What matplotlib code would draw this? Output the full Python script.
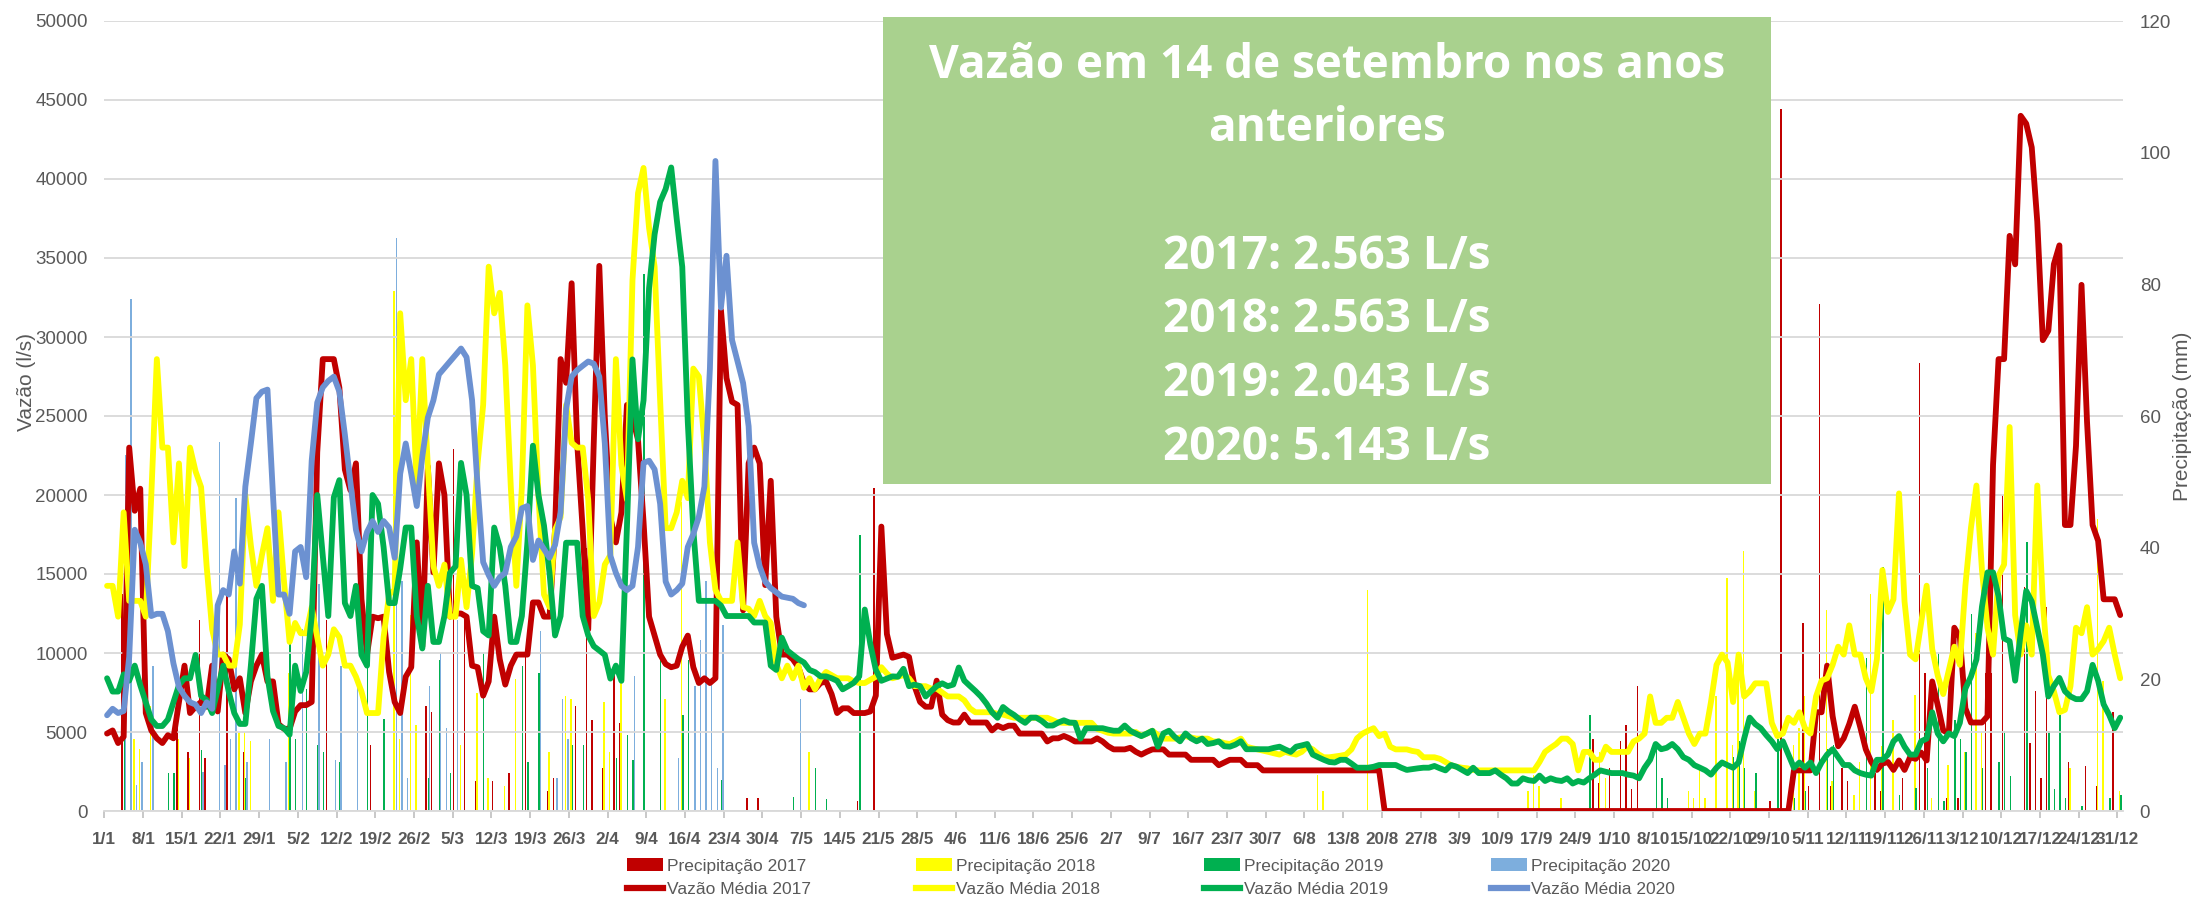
import numpy as np
import matplotlib
matplotlib.use("Agg")
import matplotlib.pyplot as plt
from matplotlib import font_manager
from matplotlib.patches import Rectangle, Patch
from matplotlib.lines import Line2D

# ---------------- data ----------------
tick_labels = ["1/1", "8/1", "15/1", "22/1", "29/1", "5/2", "12/2", "19/2", "26/2", "5/3",
               "12/3", "19/3", "26/3", "2/4", "9/4", "16/4", "23/4", "30/4", "7/5", "14/5",
               "21/5", "28/5", "4/6", "11/6", "18/6", "25/6", "2/7", "9/7", "16/7", "23/7",
               "30/7", "6/8", "13/8", "20/8", "27/8", "3/9", "10/9", "17/9", "24/9", "1/10",
               "8/10", "15/10", "22/10", "29/10", "5/11", "12/11", "19/11", "26/11", "3/12",
               "10/12", "17/12", "24/12", "31/12"]

vazao_2017 = [
    4900, 5100, 4300, 4700, 23000, 19000, 20400, 6200, 5100, 4600,
    4300, 4800, 4600, 6900, 9200, 6200, 6600, 6900, 6600, 9200,
    6300, 9900, 9600, 7700, 8400, 6200, 8200, 9200, 9900, 8200,
    8200, 5500, 5200, 5200, 6300, 6700, 6700, 6900, 22700, 28600,
    28600, 28600, 26800, 21600, 20300, 22000, 13400, 9900, 12300, 12200,
    12300, 8800, 6900, 6200, 8500, 9100, 17000, 10400, 21800, 15100,
    22000, 20000, 12300, 12500, 12500, 12300, 9200, 9100, 7300, 8200,
    12300, 9600, 8000, 9200, 9900, 9900, 9900, 13200, 13200, 12300,
    12300, 17800, 28600, 27100, 33400, 23300, 17800, 11500, 23300, 34500,
    24900, 18600, 17000, 18900, 25700, 24900, 23500, 18300, 12300, 11100,
    9900, 9300, 9100, 9200, 10400, 11100, 9100, 8100, 8400, 8100,
    8400, 31700, 27400, 25900, 25700, 12700, 22000, 23000, 22000, 14300,
    20900, 12300, 9900, 9900, 9600, 9100, 8100, 7700, 7700, 8100,
    8200, 7400, 6200, 6500, 6500, 6200, 6200, 6200, 6300, 7300,
    18000, 11200, 9700, 9800, 9900, 9750, 7900, 6900, 6600, 6600,
    8250, 6100, 5750, 5600, 5600, 6100, 5600, 5600, 5600, 5600,
    5100, 5400, 5250, 5400, 5400, 4900, 4900, 4900, 4900, 4900,
    4400, 4600, 4600, 4750, 4600, 4400, 4400, 4400, 4400, 4600,
    4400, 4100, 3900, 3900, 3900, 4000, 3750, 3570, 3750, 3900,
    3900, 3900, 3570, 3570, 3570, 3570, 3240, 3240, 3240, 3240,
    3240, 2900, 3070, 3240, 3240, 3240, 2900, 2900, 2900, 2570,
    2570, 2570, 2570, 2570, 2570, 2570, 2570, 2570, 2570, 2570,
    2570, 2570, 2570, 2570, 2570, 2570, 2570, 2570, 2570, 2570,
    2570, 0, 0, 0, 0, 0, 0, 0, 0, 0,
    0, 0, 0, 0, 0, 0, 0, 0, 0, 0,
    0, 0, 0, 0, 0, 0, 0, 0, 0, 0,
    0, 0, 0, 0, 0, 0, 0, 0, 0, 0,
    0, 0, 0, 0, 0, 0, 0, 0, 0, 0,
    0, 0, 0, 0, 0, 0, 0, 0, 0, 0,
    0, 0, 0, 0, 0, 0, 0, 0, 0, 0,
    0, 0, 0, 0, 0, 2570, 2570, 2570, 2570, 6250,
    6250, 9200, 6000, 4100, 4600, 5500, 6600, 5300, 3900, 3100,
    2600, 3000, 3100, 2600, 3200, 2600, 3400, 3300, 3700, 3200,
    8200, 6700, 5100, 4900, 11600, 11000, 6500, 5600, 5600, 5600,
    6000, 21900, 28600, 28600, 36400, 34600, 44000, 43500, 42000, 37300,
    29800, 30400, 34600, 35800, 18100, 18100, 23100, 33300, 24600, 18100,
    17100, 13400, 13400, 13400, 12400]

vazao_2018 = [
    14250, 14250, 12300, 18900, 13300, 13300, 13300, 12300, 20000, 28600,
    23000, 23000, 17000, 22000, 15500, 23000, 21500, 20500, 15500, 11500,
    9900, 9900, 9200, 9200, 11800, 20000, 16800, 14250, 16200, 17900,
    13300, 18900, 14500, 10700, 11900, 11250, 11250, 12900, 11000, 9200,
    9900, 11500, 11000, 9200, 9200, 8500, 7560, 6200, 6200, 6200,
    11000, 13700, 14000, 31500, 26000, 28600, 20500, 28600, 21800, 15500,
    14250, 15600, 12300, 12300, 15900, 12900, 16300, 22000, 25700, 34450,
    31500, 32800, 28200, 20500, 14250, 20500, 32000, 28200, 20000, 13700,
    12900, 17800, 18600, 25700, 23300, 23000, 23000, 19700, 12340, 13200,
    15600, 16200, 28600, 21900, 19700, 33600, 39100, 40700, 36900, 34450,
    26000, 17900, 17900, 18900, 20900, 19800, 28000, 27500, 23300, 17000,
    14000, 13300, 13300, 13300, 17000, 12900, 12800, 12340, 13300, 12340,
    11900, 9300, 8400, 9200, 8400, 9200, 7800, 8400, 7700, 8400,
    8800, 8600, 8400, 8400, 8400, 8200, 8100, 8100, 8300, 8500,
    9100, 8700, 8400, 8500, 8600, 8400, 7900, 7900, 7900, 7750,
    7750, 7500, 7250, 7250, 7250, 7000, 6500, 6250, 6250, 6250,
    6250, 6150, 6100, 6000, 5900, 5900, 5900, 5900, 5900, 5900,
    5900, 5750, 5600, 5580, 5580, 5580, 5580, 5580, 5580, 5200,
    5080, 4950, 4900, 4900, 4900, 4900, 5000, 4750, 4900, 5080,
    4800, 4580, 4580, 4580, 4650, 4740, 4650, 4580, 4580, 4580,
    4400, 4400, 4300, 4240, 4400, 4580, 4070, 3980, 3900, 3820,
    3740, 3650, 3570, 3740, 3650, 3570, 3740, 4070, 3900, 3600,
    3400, 3400, 3450, 3500, 3570, 3900, 4600, 4900, 5080, 5240,
    4740, 4900, 4070, 3900, 3900, 3900, 3800, 3740, 3400, 3400,
    3400, 3300, 3100, 2900, 2800, 2740, 2700, 2600, 2570, 2570,
    2570, 2570, 2570, 2570, 2570, 2570, 2570, 2570, 2570, 3100,
    3740, 4000, 4240, 4580, 4580, 4240, 2570, 3740, 3740, 3240,
    3240, 4070, 3740, 3740, 3740, 3740, 4400, 4580, 4900, 7250,
    5580, 5580, 5900, 5900, 6900, 5900, 4900, 4240, 4900, 4900,
    6900, 9250, 9900, 9400, 6900, 9900, 7250, 7580, 8080, 8080,
    8080, 5580, 4740, 4900, 5900, 5580, 6250, 5240, 4900, 7250,
    8250, 8400, 9250, 10400, 9900, 11750, 9900, 9900, 8400, 7580,
    9600, 15250, 12600, 13400, 20100, 13260, 9900, 9600, 11900, 14260,
    10250, 8580, 7400, 8900, 10400, 9250, 14260, 17900, 20600, 15250,
    11600, 9900, 14900, 15600, 24300, 12400, 9900, 11750, 9900, 20600,
    13260, 8580, 7580, 6250, 6400, 7900, 11600, 11250, 12900, 9900,
    10250, 10750, 11600, 9900, 8400]

vazao_2019 = [
    8400, 7560, 7560, 8650, 8250, 9200, 7970, 6880, 5790, 5380,
    5380, 5790, 6880, 7970, 8400, 8400, 9880, 7290, 7020, 6200,
    7700, 9200, 7560, 6200, 5510, 5510, 9200, 13430, 14250, 8520,
    6330, 5380, 5240, 4830, 9200, 7600, 8790, 12340, 20000, 16160,
    12340, 19850, 20940, 13160, 12340, 14250, 9880, 9200, 20000, 19440,
    16700, 13160, 13160, 15340, 17940, 17940, 12340, 10290, 14250, 10700,
    10700, 12340, 15070, 15480, 22030, 20000, 14250, 14110, 11380, 11110,
    17940, 16700, 14250, 10700, 10700, 12340, 17000, 23120, 20000, 18070,
    15070, 11110, 12340, 16980, 16980, 16980, 12340, 11110, 10430, 10160,
    9880, 8380, 9200, 8240, 18000, 28580, 23530, 25990, 33090, 36500,
    38550, 39370, 40730, 37460, 34440, 24620, 17800, 13300, 13300, 13300,
    13300, 13000, 12340, 12340, 12340, 12340, 12340, 11930, 11930, 11930,
    9200, 8930, 10970, 10160, 9880, 9610, 9400, 8930, 8790, 8520,
    8520, 8400, 8240, 7700, 7900, 8110, 8520, 12750, 10570, 8930,
    8240, 8380, 8520, 8500, 9000, 7900, 8000, 7900, 7250, 7580,
    7900, 8080, 7900, 8000, 9080, 8250, 7920, 7600, 7250, 6800,
    6250, 5900, 6580, 6300, 6080, 5800, 5580, 5910, 5910, 5700,
    5410, 5410, 5600, 5740, 5600, 5580, 4580, 5240, 5240, 5240,
    5240, 5150, 5080, 5080, 5410, 5080, 4900, 4740, 4900, 5080,
    4070, 4910, 5080, 4700, 4410, 4910, 4600, 4410, 4580, 4240,
    4300, 4410, 4100, 4070, 4200, 4410, 3910, 3910, 3910, 3910,
    3910, 4000, 4070, 3900, 3740, 4070, 4150, 4240, 3570, 3400,
    3240, 3100, 3070, 3240, 3240, 3000, 2740, 2740, 2740, 2800,
    2910, 2910, 2910, 2910, 2740, 2600, 2650, 2700, 2740, 2740,
    2850, 2700, 2570, 2910, 2800, 2600, 2400, 2740, 2400, 2400,
    2400, 2570, 2300, 2070, 1740, 1740, 2070, 1950, 1900, 2240,
    1900, 2070, 1950, 1900, 2070, 1740, 1900, 1800, 2070, 2300,
    2570, 2480, 2400, 2400, 2400, 2300, 2240, 2070, 2740, 3240,
    4240, 3910, 4000, 4240, 3910, 3410, 3240, 2900, 2740, 2570,
    2300, 2740, 3070, 2900, 2740, 3070, 4580, 5910, 5500, 5240,
    4800, 4410, 3910, 4410, 3570, 2740, 3070, 2740, 3070, 2400,
    3070, 3570, 3910, 3410, 2910, 2910, 2570, 2400, 2300, 2240,
    3240, 3240, 3570, 4410, 4740, 4070, 3570, 3570, 4410, 4580,
    6250, 4910, 4410, 4910, 4740, 5580, 7750, 8500, 9590, 12930,
    15100, 15100, 13590, 10920, 10750, 8250, 11260, 13930, 13260, 11590,
    9920, 7250, 7920, 8420, 7580, 7250, 7080, 7080, 7580, 9250,
    8250, 6750, 6080, 5240, 5910]

vazao_2020 = [
    6060, 6470, 6200, 6330, 9750, 17800, 16980, 15620, 12340, 12480,
    12480, 11380, 9340, 7840, 7290, 6880, 6740, 6200, 6880, 6470,
    13020, 13980, 13700, 16430, 14390, 20530, 23260, 26130, 26540, 26670,
    19980, 13700, 13700, 12480, 16430, 16710, 14800, 22170, 25850, 26810,
    27220, 27490, 26540, 23810, 20800, 17800, 16430, 17660, 18350, 17660,
    18350, 17940, 16030, 21350, 23260, 21350, 19300, 22440, 24900, 25990,
    27630, 28040, 28450, 28860, 29270, 28720, 25990, 20530, 15750, 14930,
    14250, 14800, 15070, 16710, 17390, 19160, 19300, 15890, 17120, 16570,
    16030, 16840, 18890, 25440, 27490, 27900, 28180, 28450, 28310, 27490,
    23260, 16160, 15070, 14250, 13980, 14250, 16710, 22030, 22170, 21620,
    19440, 14520, 13700, 13980, 14390, 16710, 17530, 18620, 20530, 28000,
    41140, 31860, 35140, 29810, 28450, 27080, 24350, 16980, 15480, 14520,
    14110, 13840, 13570, 13500, 13430, 13160, 13020]

# precipitation (day index, mm)
precip_2017 = [(3, 33), (13, 20), (15, 9), (17, 29), (18, 8), (22, 33), (25, 9), (40, 29),
               (48, 10), (58, 16), (59, 15), (63, 55), (65, 30), (67, 4.6), (70, 4.6), (73, 5.8),
               (76, 24), (80, 3), (81, 5), (85, 16), (87, 40), (88, 13.8), (90, 6.6), (92, 22),
               (93, 13.4), (116, 2), (118, 2), (136, 1.5), (139, 49), (269, 11), (270, 4.2),
               (272, 6.6), (274, 10.6), (275, 13), (276, 3.4), (277, 19), (301, 1.5), (303, 106.6),
               (307, 28.5), (308, 3.8), (310, 77), (312, 3.8), (314, 6.6), (315, 4.6), (320, 5.8),
               (321, 3), (325, 5), (328, 68), (329, 21), (333, 2), (335, 2), (340, 21), (341, 21),
               (343, 48), (347, 34), (348, 10.4), (349, 18.2), (350, 5), (351, 31), (355, 7.4),
               (358, 6.8), (360, 3.8), (363, 15)]
precip_2018 = [(5, 11), (6, 9.4), (8, 16), (13, 11), (15, 8), (24, 12), (25, 12), (26, 10.6),
               (33, 21), (52, 79), (53, 11), (55, 29.7), (56, 13), (64, 10), (67, 18), (69, 5),
               (72, 3.8), (74, 20), (80, 9), (83, 17.5), (84, 17), (90, 16.5), (91, 9), (93, 20),
               (101, 17), (104, 47), (127, 9), (219, 5.4), (220, 3), (228, 33.6), (257, 3.1),
               (258, 5.4), (259, 3.8), (263, 2), (270, 9), (271, 5), (286, 3), (287, 2), (288, 6.2),
               (289, 2), (291, 17.4), (293, 35.4), (294, 10), (295, 23.8), (296, 39.5), (298, 3),
               (305, 10), (306, 12.6), (307, 17.4), (311, 30.5), (312, 4.6), (316, 2.5), (317, 7.4),
               (319, 33), (321, 9.8), (323, 13.8), (327, 17.6), (330, 2), (333, 7), (336, 9),
               (338, 27), (339, 12), (355, 6.6), (360, 44.3), (361, 19.8), (364, 3.1)]
precip_2019 = [(3, 11), (11, 5.7), (12, 5.8), (17, 9.3), (25, 5), (33, 26), (34, 11), (36, 18.5),
               (38, 10), (39, 9), (42, 7.5), (47, 24), (50, 14), (58, 5), (60, 23), (62, 5.8),
               (68, 24), (75, 22), (76, 7.4), (78, 21), (84, 10), (86, 10), (92, 8), (94, 11.5),
               (95, 7.8), (97, 81.5), (100, 23), (104, 14.6), (105, 23), (111, 4.7), (124, 2.2),
               (128, 6.6), (130, 1.8), (136, 42), (268, 14.6), (280, 10), (281, 5), (282, 2),
               (294, 8.2), (295, 10.6), (296, 6.6), (298, 5.8), (302, 11), (305, 2), (307, 3),
               (311, 9.4), (312, 10), (318, 23.2), (321, 37), (324, 2.5), (327, 3.5), (329, 6.6),
               (331, 24), (332, 1.5), (334, 13.8), (335, 11), (336, 9), (337, 30), (339, 6.6),
               (342, 7.4), (343, 12.2), (344, 5.3), (347, 40.8), (351, 12.2), (352, 3.4),
               (353, 14.6), (354, 2), (357, 0.8), (362, 2), (364, 2.5)]
precip_2020 = [(3, 54), (4, 77.7), (5, 4), (6, 7.5), (8, 22), (17, 6), (20, 56), (21, 7), (22, 11),
               (23, 47.5), (25, 7.5), (29, 11), (32, 7.4), (35, 27.7), (38, 34.5), (41, 7.8),
               (42, 22), (45, 19.5), (52, 87), (53, 35), (54, 5), (58, 19), (60, 24), (61, 12.6),
               (63, 29), (78, 27.4), (81, 5), (82, 17), (83, 11), (95, 20.5), (103, 8), (106, 19),
               (107, 26), (108, 35), (109, 19.8), (110, 6.6), (111, 28.2), (125, 17)]

box_lines = ["Vazão em 14 de setembro nos anos", "anteriores",
             "2017: 2.563 L/s", "2018: 2.563 L/s", "2019: 2.043 L/s", "2020: 5.143 L/s"]

# ---------------- fonts ----------------
avail = {f.name for f in font_manager.fontManager.ttflist}
def pick(names, fallback="DejaVu Sans"):
    for n in names:
        if n in avail:
            return n
    return fallback

NARROW = pick(["Liberation Sans Narrow", "Liberation Sans"])
SANS = pick(["Liberation Sans", "Arial"])
BOXF = pick(["Open Sans", "Lato"])
narrow_ok = NARROW == "Liberation Sans Narrow"

GRAY = "#595959"
C17, C18, C19 = "#C00000", "#FFFF00", "#00B050"
C20_LINE, C20_BAR = "#6C91D1", "#7DAEDD"

# ---------------- figure ----------------
W, H = 2200, 897
L, R, T, B = 104.3, 2123, 21, 811
fig = plt.figure(figsize=(W / 100, H / 100), dpi=100)
rect = [L / W, 1 - B / H, (R - L) / W, (B - T) / H]
ax2 = fig.add_axes(rect)            # precipitation (right axis)
ax = fig.add_axes(rect, sharex=ax2)  # flow (left axis), drawn on top
ax.patch.set_visible(False)

# bars
offsets = [-0.33, -0.11, 0.11, 0.33]
for data, col, off in [(precip_2017, C17, offsets[0]), (precip_2018, C18, offsets[1]),
                       (precip_2019, C19, offsets[2]), (precip_2020, C20_BAR, offsets[3])]:
    d = np.array([p[0] for p in data], dtype=float)
    v = np.array([p[1] for p in data], dtype=float)
    ax2.bar(d + off, v, width=0.26, color=col, linewidth=0)

ax2.set_ylim(0, 120)
ax2.set_yticks(np.arange(0, 121, 20))
ax2.yaxis.tick_right()
ax2.tick_params(axis="y", length=0, pad=12, labelsize=13.5, labelcolor=GRAY)
for lab in ax2.get_yticklabels():
    lab.set_family(SANS)
for s in ax2.spines.values():
    s.set_visible(False)
ax2.tick_params(axis="x", bottom=False, labelbottom=False)

# lines
for vals, col, z in [(vazao_2017, C17, 3), (vazao_2018, C18, 4), (vazao_2019, C19, 5),
                     (vazao_2020, C20_LINE, 6)]:
    ax.plot(np.arange(len(vals)), vals, color=col, lw=4.2, zorder=z,
            solid_joinstyle="round", solid_capstyle="round")

ax.set_ylim(0, 50000)
ax.set_yticks(np.arange(0, 50001, 5000))
ax.grid(axis="y", color="#D9D9D9", lw=1.3)
ax.set_axisbelow(True)
ax.tick_params(axis="y", length=0, pad=12, labelsize=13.5, labelcolor=GRAY)
for lab in ax.get_yticklabels():
    lab.set_family(SANS)

ax.set_xlim(-0.5, 364.5)
ax.set_xticks(np.arange(0, 365, 7) - 0.5)
ax.set_xticklabels(tick_labels, fontfamily=NARROW, fontweight="bold",
                   fontsize=14 if narrow_ok else 12.3, color=GRAY)
ax.tick_params(axis="x", length=5, color="#BFBFBF", width=1.2, pad=10)
for side in ["top", "left", "right"]:
    ax.spines[side].set_visible(False)
ax.spines["bottom"].set_color("#D9D9D9")
ax.spines["bottom"].set_linewidth(1.3)

# axis titles
fig.text(27 / W, 1 - 382 / H, "Vazão (l/s)", rotation=90, ha="center", va="center",
         fontsize=15, color=GRAY, family=SANS)
fig.text(2182 / W, 1 - 416 / H, "Precipitação (mm)", rotation=90, ha="center", va="center",
         fontsize=15, color=GRAY, family=SANS)

# legend: one per year column
cols_x = [627, 916, 1204, 1491]
entries = [("Precipitação 2017", "Vazão Média 2017", C17, C17),
           ("Precipitação 2018", "Vazão Média 2018", C18, C18),
           ("Precipitação 2019", "Vazão Média 2019", C19, C19),
           ("Precipitação 2020", "Vazão Média 2020", C20_BAR, C20_LINE)]
leg_size = 14 if narrow_ok else 12.5
for x, (lp, lv, cb, cl) in zip(cols_x, entries):
    hnd = [Patch(facecolor=cb, edgecolor="none"), Line2D([0], [0], color=cl, lw=4.5)]
    fig.legend(hnd, [lp, lv], loc="upper left", bbox_to_anchor=(x / W, 1 - 858 / H),
               frameon=False, borderpad=0, borderaxespad=0,
               handlelength=36 / (leg_size * 100 / 72), handleheight=0.8,
               handletextpad=0.25, labelspacing=0.45,
               prop={"family": NARROW, "size": leg_size}, labelcolor=GRAY)

# annotation box
bx0, by0, bx1, by1 = 883, 17, 1771, 484
fig.add_artist(Rectangle((bx0 / W, 1 - by1 / H), (bx1 - bx0) / W, (by1 - by0) / H,
                         transform=fig.transFigure, facecolor="#A9D18E", edgecolor="none",
                         zorder=10))
baselines = [78, 141, 269, 332, 396, 460]
for txt, yb in zip(box_lines, baselines):
    fig.text(1327 / W, 1 - yb / H, txt, ha="center", va="baseline", fontsize=33,
             fontweight="bold", family=BOXF, color="white", zorder=11)

fig.savefig("out.png", dpi=100)
